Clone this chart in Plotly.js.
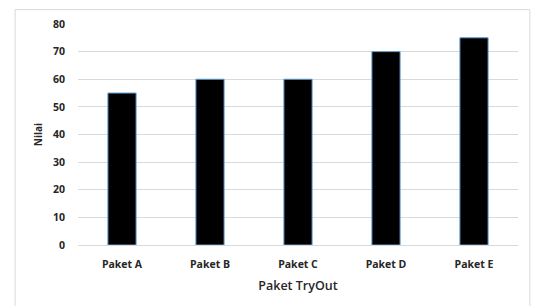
<!DOCTYPE html>
<html>
<head>
<meta charset="utf-8">
<script src="https://cdn.plot.ly/plotly-3.0.1.min.js"></script>
<style>
html,body{margin:0;padding:0;background:#fff;}
#chart{width:533px;height:306px;}
</style>
</head>
<body>
<div id="chart"></div>
<script>
const categories = ["Paket A", "Paket B", "Paket C", "Paket D", "Paket E"];
const nilai = [55, 60, 60, 70, 75];
const yTicks = [0, 10, 20, 30, 40, 50, 60, 70, 80];

const FONT = "'Open Sans', 'Liberation Sans', sans-serif";

const trace = {
  type: "bar",
  x: categories,
  y: nilai,
  marker: { color: "#000000", line: { color: "#5b9bd5", width: 1 } },
  hoverinfo: "skip"
};

const layout = {
  width: 533,
  height: 306,
  margin: { l: 78, r: 15, t: 23.5, b: 61 },
  paper_bgcolor: "#ffffff",
  plot_bgcolor: "#ffffff",
  showlegend: false,
  bargap: 0.68,
  font: { family: FONT, color: "#262626" },
  xaxis: {
    type: "category",
    showgrid: false,
    showline: true,
    linecolor: "#d9d9d9",
    linewidth: 1,
    ticks: "",
    tickfont: { family: FONT, size: 10.5, color: "#262626", weight: "bold" },
    ticklabelstandoff: 9,
    title: { text: "Paket TryOut", font: { family: FONT, size: 12.5, color: "#262626", weight: 600 }, standoff: 11 }
  },
  yaxis: {
    range: [0, 80],
    tickvals: yTicks,
    showgrid: true,
    gridcolor: "#d9d9d9",
    gridwidth: 1,
    zeroline: false,
    showline: false,
    ticks: "",
    tickfont: { family: FONT, size: 10.5, color: "#262626", weight: "bold" },
    ticklabelstandoff: 12,
    title: { text: "Nilai", font: { family: FONT, size: 10, color: "#262626", weight: "bold" }, standoff: 8 }
  },
  shapes: [
    { type: "line", xref: "paper", yref: "paper", x0: -0.143, x1: 1.027, y0: 1.065, y1: 1.065, line: { color: "#d9d9d9", width: 1 } },
    { type: "line", xref: "paper", yref: "paper", x0: -0.143, x1: -0.143, y0: 1.065, y1: -0.3, line: { color: "#d9d9d9", width: 1 } },
    { type: "line", xref: "paper", yref: "paper", x0: 1.027, x1: 1.027, y0: 1.065, y1: -0.3, line: { color: "#d9d9d9", width: 1 } }
  ]
};

Plotly.newPlot("chart", [trace], layout, { displayModeBar: false, staticPlot: true });
</script>
</body>
</html>
